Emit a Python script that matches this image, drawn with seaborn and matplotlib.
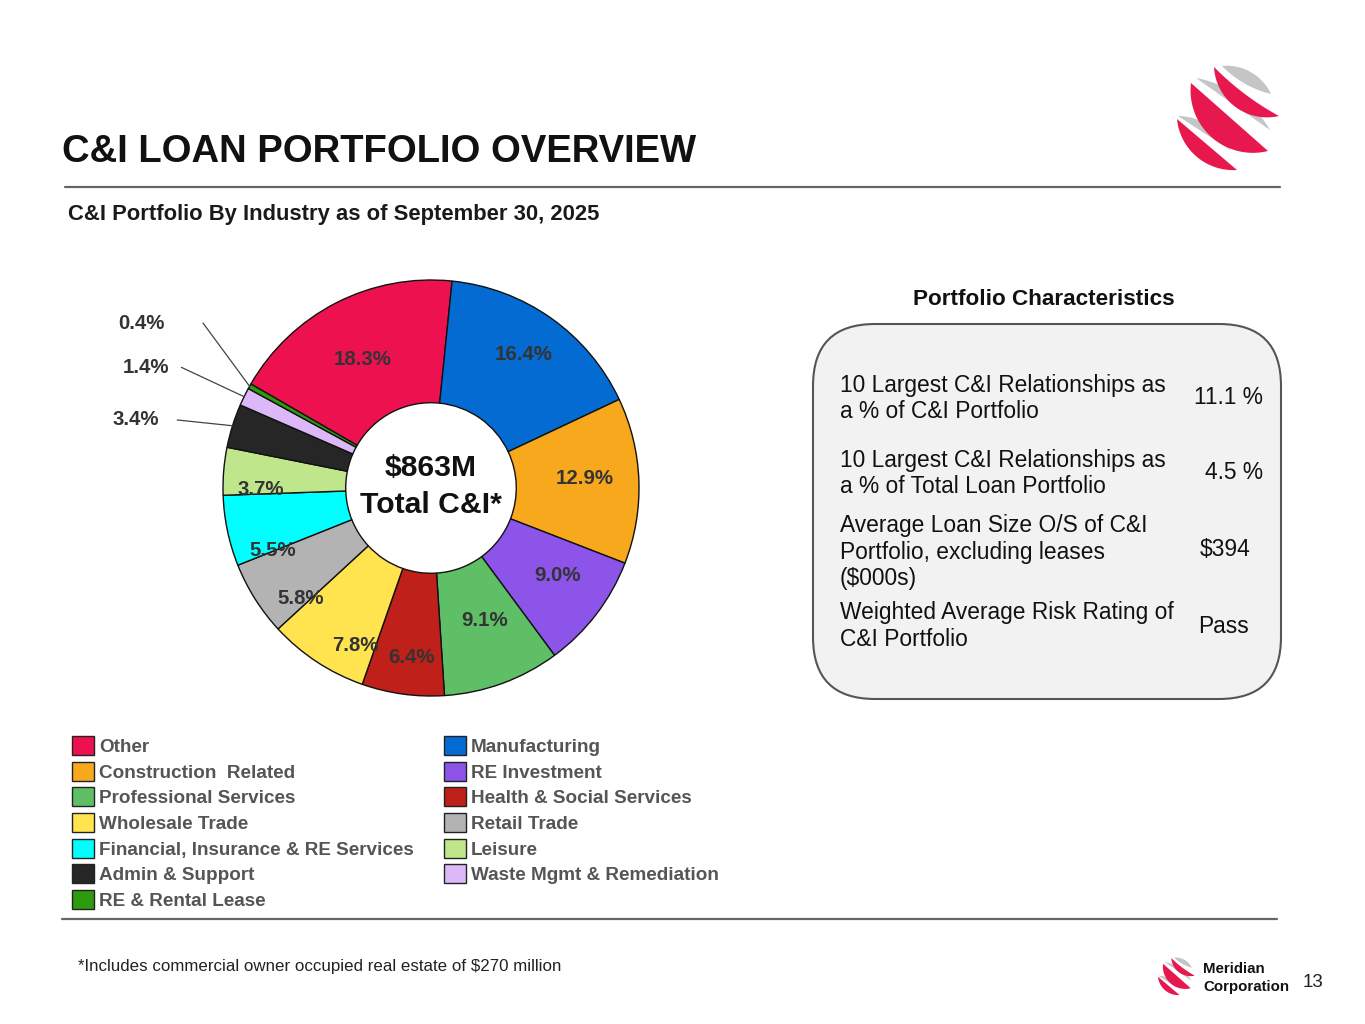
import numpy as np
import matplotlib
matplotlib.use("Agg")
import matplotlib.pyplot as plt
from matplotlib.patches import Patch, Polygon, FancyBboxPatch
import seaborn as sns

# Data
industries = [
    "Other", "Manufacturing", "Construction  Related", "RE Investment",
    "Professional Services", "Health & Social Services", "Wholesale Trade",
    "Retail Trade", "Financial, Insurance & RE Services", "Leisure",
    "Admin & Support", "Waste Mgmt & Remediation", "RE & Rental Lease",
]
shares = [18.3, 16.4, 12.9, 9.0, 9.1, 6.4, 7.8, 5.8, 5.5, 3.7, 3.4, 1.4, 0.4]
hex_colors = [
    "#ee1150", "#046bd2", "#f8a81c", "#8c54e9", "#5fbf66", "#c0201a",
    "#ffe44f", "#b3b3b3", "#00ffff", "#bfe68a", "#262626", "#dcb8f9",
    "#2e9a0e",
]

total_text = ["$863M", "Total C&I*"]

char_labels = [
    ["10 Largest C&I Relationships as", "a % of C&I Portfolio"],
    ["10 Largest C&I Relationships as", "a % of Total Loan Portfolio"],
    ["Average Loan Size O/S of C&I", "Portfolio, excluding leases", "($000s)"],
    ["Weighted Average Risk Rating of", "C&I Portfolio"],
]
char_values = ["11.1 %", "4.5 %", "$394", "Pass"]

sns.set_theme(style="white")
plt.rcParams["font.family"] = ["Liberation Sans", "DejaVu Sans"]
palette = sns.color_palette(hex_colors)

fig = plt.figure(figsize=(13.65, 10.24), dpi=100)
fig.patch.set_facecolor("white")

# background axes in pixel coordinates
bg = fig.add_axes([0, 0, 1, 1])
bg.set_xlim(0, 1365)
bg.set_ylim(1024, 0)
bg.axis("off")

bg.text(62, 162, "C&I LOAN PORTFOLIO OVERVIEW", fontsize=27.5,
        fontweight="bold", color="#111111", va="baseline")
bg.plot([65, 1280], [187, 187], color="#666666", lw=1.6)
bg.text(68, 220, "C&I Portfolio By Industry as of September 30, 2025",
        fontsize=15.8, fontweight="bold", color="#1a1a1a", va="baseline")
bg.plot([62, 1277], [919, 919], color="#666666", lw=1.6)
bg.text(78, 971, "*Includes commercial owner occupied real estate of $270 million",
        fontsize=12.2, color="#222222", va="baseline")

# portfolio characteristics box
bg.text(1044, 305, "Portfolio Characteristics", fontsize=16.2,
        fontweight="bold", color="#111111", ha="center", va="baseline")
bg.add_patch(FancyBboxPatch((813, 324), 468, 375,
                            boxstyle="round,pad=0,rounding_size=62",
                            fc="#f2f2f2", ec="#555555", lw=1.5))
row_baselines = [[392, 418], [467, 493], [532, 559, 585], [619, 646]]
value_pos = [(1263, 404, "right"), (1263, 479, "right"),
             (1225, 556, "center"), (1224, 633, "center")]
for lines, ys in zip(char_labels, row_baselines):
    for line, y in zip(lines, ys):
        bg.text(840, y, line, fontsize=16.4, color="#111111", va="baseline")
for val, (x, y, ha) in zip(char_values, value_pos):
    bg.text(x, y, val, fontsize=16.4, color="#111111", va="baseline", ha=ha)


# logo made of tapered crescents
def arc(a, b, s, n_pts=50):
    a = np.array(a, float)
    b = np.array(b, float)
    if abs(s) < 1e-6:
        return np.linspace(a, b, n_pts)
    m = (a + b) / 2
    v = b - a
    h = np.linalg.norm(v) / 2
    n = np.array([-v[1], v[0]]) / (2 * h)
    sg = np.sign(s)
    nn = n * sg
    ss = abs(s)
    r = (h * h + ss * ss) / (2 * ss)
    c = m + nn * (ss - r)
    th = np.arctan2(h, r - ss)
    base = np.arctan2(nn[1], nn[0])
    t = sg * np.linspace(th, -th, n_pts)
    return c + r * np.column_stack([np.cos(base + t), np.sin(base + t)])


def crescent(ax, a, b, s_out, s_in, color, origin, scale, ref):
    a = origin + scale * (np.array(a, float) - ref)
    b = origin + scale * (np.array(b, float) - ref)
    pts = np.vstack([arc(a, b, scale * s_out), arc(a, b, scale * s_in)[::-1]])
    ax.add_patch(Polygon(pts, closed=True, fc=color, ec="none"))


logo_gray = [
    ((1178, 116), (1230, 150), -9, 0),
    ((1196, 78), (1270, 130), -10, 0),
    ((1222, 66), (1271, 94), -9, 4),
]
logo_red = [
    ((1177, 119), (1237, 170), 16, 0),
    ((1191, 83), (1268, 151), 27, 0),
    ((1214, 67), (1279, 116), 19, 3),
]


def draw_logo(ax, origin, scale):
    o = np.array(origin, float)
    ref = np.array([1177, 67], float)
    for a, b, so, si in logo_gray:
        crescent(ax, a, b, so, si, "#c3c5c7", o, scale, ref)
    for a, b, so, si in logo_red:
        crescent(ax, a, b, so, si, "#e6184e", o, scale, ref)


draw_logo(bg, (1177, 67), 1.0)
draw_logo(bg, (1158, 958), 0.36)
bg.text(1203, 973, "Meridian", fontsize=10.8, fontweight="bold",
        color="#111111", va="baseline")
bg.text(1203, 991, "Corporation", fontsize=10.8, fontweight="bold",
        color="#111111", va="baseline")
bg.text(1313, 987, "13", fontsize=13.5, color="#222222", va="baseline",
        ha="center")

# donut chart
cx, cy, rad, half = 431, 488, 208, 300
ax = fig.add_axes([(cx - half) / 1365, (1024 - cy - half) / 1024,
                   2 * half / 1365, 2 * half / 1024])

wedges, _ = ax.pie(shares, colors=palette, startangle=150, counterclock=False,
                   radius=1.0,
                   wedgeprops=dict(width=0.59, edgecolor="#111111", linewidth=1.0))
lim = half / rad
ax.set_xlim(-lim, lim)
ax.set_ylim(-lim, lim)
ax.axis("off")

label_r = [0.70, 0.78, 0.74, 0.74, 0.69, 0.82, 0.84, 0.82, 0.82, 0.82]
label_dang = [1.0, 0.6, 1.7, 2.7, 2.0, 1.2, 7.6, 8.0, 9.6, 5.2]
outside_text = [(-1.42, 0.33), (-1.37, 0.58), (-1.39, 0.79)]
outside_line = [(-1.22, 0.327), (-1.20, 0.58), (-1.096, 0.793)]

for i, (w, v) in enumerate(zip(wedges, shares)):
    mid = np.deg2rad((w.theta1 + w.theta2) / 2)
    txt = f"{v:.1f}%"
    if i < len(label_r):
        ang = mid + np.deg2rad(label_dang[i])
        ax.text(label_r[i] * np.cos(ang), label_r[i] * np.sin(ang), txt,
                ha="center", va="center", fontsize=14.7, fontweight="bold",
                color="#333333")
    else:
        k = i - len(label_r)
        tx, ty = outside_text[k]
        lx, ly = outside_line[k]
        ax.plot([lx, 1.0 * np.cos(mid)], [ly, 1.0 * np.sin(mid)],
                color="#444444", lw=0.9)
        ax.text(tx, ty, txt, ha="center", va="center", fontsize=14.7,
                fontweight="bold", color="#333333")

bg.text(cx, 468, total_text[0], fontsize=21.7, fontweight="bold",
        color="#111111", ha="center", va="center", zorder=5)
bg.text(cx, 505, total_text[1], fontsize=21.7, fontweight="bold",
        color="#111111", ha="center", va="center", zorder=5)

# legend: two columns, read row-wise
handles = [Patch(facecolor=c, edgecolor="#222222", linewidth=1.0) for c in palette]
order = list(range(0, len(industries), 2)) + list(range(1, len(industries), 2))
leg = fig.legend([handles[i] for i in order], [industries[i] for i in order],
                 ncol=2, loc="upper left",
                 bbox_to_anchor=(72 / 1365, 1 - 736 / 1024),
                 frameon=False, prop={"weight": "bold", "size": 13.6},
                 handlelength=1.16, handleheight=1.16, handletextpad=0.26,
                 labelspacing=0.31, columnspacing=1.6, borderpad=0,
                 borderaxespad=0)
for t in leg.get_texts():
    t.set_color("#555555")

fig.savefig("out.png", dpi=100)
